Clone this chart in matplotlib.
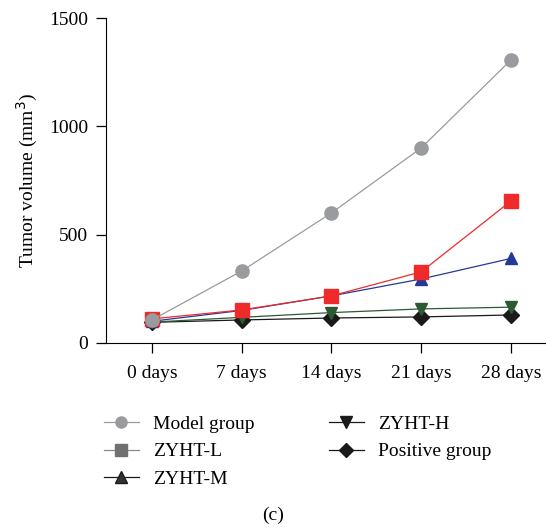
import matplotlib
import matplotlib.pyplot as plt
from matplotlib.lines import Line2D

matplotlib.use("Agg")

days = ["0 days", "7 days", "14 days", "21 days", "28 days"]
model = [106, 332, 600, 900, 1306]
zyht_l = [111, 152, 217, 328, 655]
zyht_m = [100, 150, 217, 295, 390]
zyht_h = [96, 118, 140, 157, 165]
positive = [95, 106, 115, 120, 129]

plt.rcParams["font.family"] = ["Liberation Serif", "DejaVu Serif"]
fs = 14

fig = plt.figure(figsize=(5.46, 5.30), dpi=100)
ax = fig.add_axes([0.194, 0.353, 0.804, 0.613])
x = range(len(days))

# draw order: model last so its marker sits on top at day 0
ax.plot(x, positive, "-D", color="#1a1a1a", lw=0.9, ms=8)
ax.plot(x, zyht_h, "-v", color="#2d5a33", lw=0.9, ms=9)
ax.plot(x, zyht_m, "-^", color="#243a94", lw=0.9, ms=9)
ax.plot(x, zyht_l, "-s", color="#ee2a2a", lw=0.9, ms=10)
ax.plot(x, model, "-o", color="#9a9b9f", lw=0.9, ms=9.5)

ax.set_xlim(-0.513, 4.379)
ax.set_ylim(0, 1500)
ax.set_xticks(list(x))
ax.set_xticklabels(days)
ax.set_yticks([0, 500, 1000, 1500])
ax.spines["top"].set_visible(False)
ax.spines["right"].set_visible(False)
ax.tick_params(direction="out", length=7, labelsize=fs, width=0.9, pad=6)
ax.tick_params(axis="x", pad=9)
ax.set_ylabel("Tumor volume (mm$^3$)", fontsize=fs, labelpad=6)

handles = [
    Line2D([], [], color="#9a9b9f", marker="o", ms=8, lw=0.9),
    Line2D([], [], color="#8a8a8a", marker="s", ms=8, mfc="#707070", mec="#707070", lw=0.9),
    Line2D([], [], color="#1a1a1a", marker="^", ms=8, mfc="#333333", lw=0.9),
    Line2D([], [], color="#1a1a1a", marker="v", ms=8, lw=0.9),
    Line2D([], [], color="#1a1a1a", marker="D", ms=7, lw=0.9),
]
labels = ["Model group", "ZYHT-L", "ZYHT-M", "ZYHT-H", "Positive group"]
leg_kw = dict(loc="upper left", frameon=False, fontsize=fs, handlelength=1.8,
              labelspacing=0.5, handletextpad=0.75, borderpad=0, borderaxespad=0)
fig.legend(handles[:3], labels[:3], bbox_to_anchor=(0.19, 0.216), **leg_kw)
fig.legend(handles[3:], labels[3:], bbox_to_anchor=(0.602, 0.216), **leg_kw)

fig.text(0.5, 0.028, "(c)", ha="center", va="center", fontsize=fs)

fig.savefig("out.png", dpi=100)
